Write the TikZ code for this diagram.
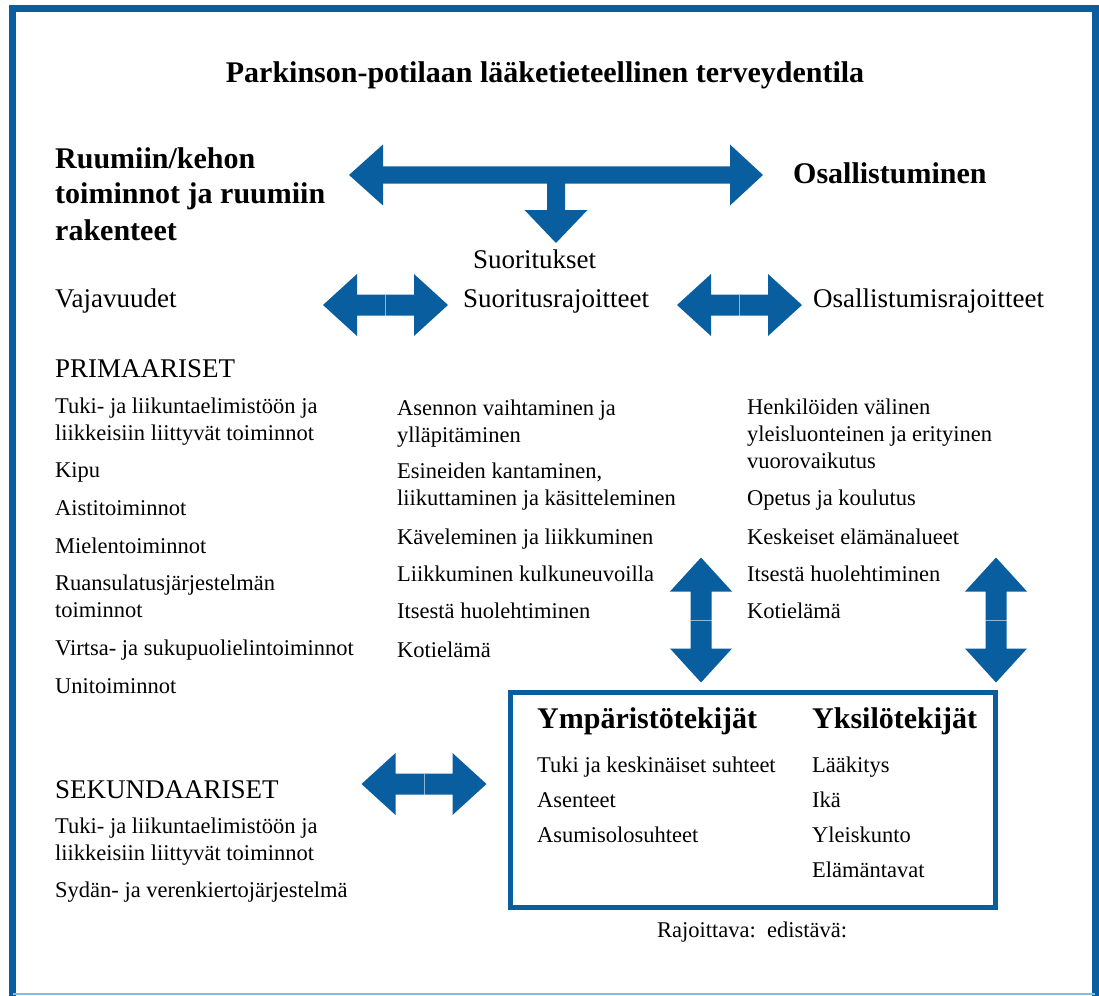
\documentclass[tikz,border=0pt]{standalone}
\usepackage{fontspec}
\setmainfont{Liberation Serif}
\definecolor{icfblue}{RGB}{8,94,158}
\definecolor{framelight}{RGB}{130,190,228}
\tikzset{
  body/.style={anchor=base west, inner sep=0pt, font=\fontsize{22.5}{27}\selectfont},
  head/.style={anchor=base west, inner sep=0pt, font=\fontsize{27}{32}\selectfont},
  bighead/.style={anchor=base west, inner sep=0pt, font=\fontsize{30}{36}\selectfont\bfseries},
  seam/.style={draw=white, draw opacity=0.55, line width=0.9pt},
  pics/dblarrow/.style={code={
    \fill[icfblue] (-62.5,0) -- (-28.5,-31) -- (-28.5,-10.5) -- (28.5,-10.5) -- (28.5,-31) -- (62.5,0)
      -- (28.5,31) -- (28.5,10.5) -- (-28.5,10.5) -- (-28.5,31) -- cycle;
    \draw[seam] (0,-10.5) -- (0,10.5);
  }},
}
\begin{document}
\begin{tikzpicture}[x=1pt,y=-1pt]
\useasboundingbox (0,0) rectangle (1099,995);
% frame
\draw[icfblue, line width=7pt] (12.5,1002) -- (12.5,9) -- (1095,9) -- (1095,1002);
\draw[framelight, line width=2pt] (12.5,994) -- (1095,994);

% title
\node[anchor=base, inner sep=0pt, font=\fontsize{30}{36}\selectfont\bfseries] (title) at (545,83)
  {Parkinson-potilaan lääketieteellinen terveydentila};

% top headers
\node[bighead] (body1) at (55,168) {Ruumiin/kehon};
\node[bighead] (body2) at (55,204) {toiminnot ja ruumiin};
\node[bighead] (body3) at (55,240) {rakenteet};
\node[bighead] (partic) at (793,183) {Osallistuminen};

% big top arrow with downward branch
\fill[icfblue] (349,175) -- (383,144.5) -- (383,166.5) -- (730,166.5) -- (730,144.5) -- (763,175)
  -- (730,205.5) -- (730,183.5) -- (565,183.5) -- (565,210) -- (587.5,210) -- (556,243)
  -- (524.5,210) -- (547,210) -- (547,183.5) -- (383,183.5) -- (383,205.5) -- cycle;

% second row
\node[head] (suor) at (473,268) {Suoritukset};
\node[head] (vaja) at (55,307) {Vajavuudet};
\node[head] (suorraj) at (463,307) {Suoritusrajoitteet};
\node[head] (osraj) at (813,307) {Osallistumisrajoitteet};
\pic at (385.5,305) {dblarrow};
\pic at (739.5,305) {dblarrow};

% left column
\node[head] (prim) at (55,377) {PRIMAARISET};
\node[body] (p1a) at (55,413) {Tuki- ja liikuntaelimistöön ja};
\node[body] (p1b) at (55,440) {liikkeisiin liittyvät toiminnot};
\node[body] (p2) at (55,477) {Kipu};
\node[body] (p3) at (55,515) {Aistitoiminnot};
\node[body] (p4) at (55,553) {Mielentoiminnot};
\node[body] (p5a) at (55,590) {Ruansulatusjärjestelmän};
\node[body] (p5b) at (55,617) {toiminnot};
\node[body] (p6) at (55,655) {Virtsa- ja sukupuolielintoiminnot};
\node[body] (p7) at (55,693) {Unitoiminnot};

\node[head] (sek) at (55,798) {SEKUNDAARISET};
\node[body] (s1a) at (55,833) {Tuki- ja liikuntaelimistöön ja};
\node[body] (s1b) at (55,860) {liikkeisiin liittyvät toiminnot};
\node[body] (s2) at (55,897) {Sydän- ja verenkiertojärjestelmä};

% middle column
\node[body] (m1a) at (397,415) {Asennon vaihtaminen ja};
\node[body] (m1b) at (397,442) {ylläpitäminen};
\node[body] (m2a) at (397,478) {Esineiden kantaminen,};
\node[body] (m2b) at (397,505) {liikuttaminen ja käsitteleminen};
\node[body] (m3) at (397,544) {Käveleminen ja liikkuminen};
\node[body] (m4) at (397,581) {Liikkuminen kulkuneuvoilla};
\node[body] (m5) at (397,618) {Itsestä huolehtiminen};
\node[body] (m6) at (397,657) {Kotielämä};

% right column
\node[body] (r1a) at (747,414) {Henkilöiden välinen};
\node[body] (r1b) at (747,441) {yleisluonteinen ja erityinen};
\node[body] (r1c) at (747,468) {vuorovaikutus};
\node[body] (r2) at (747,505) {Opetus ja koulutus};
\node[body] (r3) at (747,544) {Keskeiset elämänalueet};
\node[body] (r4) at (747,581) {Itsestä huolehtiminen};
\node[body] (r5) at (747,618) {Kotielämä};

% vertical arrows
\pic[rotate=90] at (701,620) {dblarrow};
\pic[rotate=90] at (996,620) {dblarrow};
% lower left arrow
\pic at (424,784) {dblarrow};

% factors box
\draw[icfblue, line width=5pt] (510,692) rectangle (995,907);
\node[anchor=base west, inner sep=0pt, font=\fontsize{30}{36}\selectfont\bfseries] (env) at (537,728) {Ympäristötekijät};
\node[anchor=base west, inner sep=0pt, font=\fontsize{30}{36}\selectfont\bfseries] (pers) at (812,728) {Yksilötekijät};
\node[body] (e1) at (537,772) {Tuki ja keskinäiset suhteet};
\node[body] (e2) at (537,807) {Asenteet};
\node[body] (e3) at (537,842) {Asumisolosuhteet};
\node[body] (y1) at (812,772) {Lääkitys};
\node[body] (y2) at (812,807) {Ikä};
\node[body] (y3) at (812,842) {Yleiskunto};
\node[body] (y4) at (812,877) {Elämäntavat};
\node[anchor=base, inner sep=0pt, font=\fontsize{22.5}{27}\selectfont] (legend) at (752,937) {Rajoittava:\ \ edistävä:};
\end{tikzpicture}
\end{document}
